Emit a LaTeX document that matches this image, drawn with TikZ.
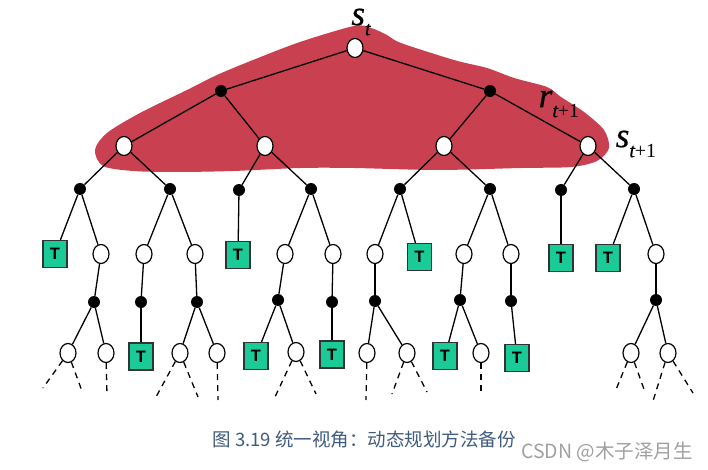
\documentclass[tikz,border=0pt]{standalone}
\usepackage{fontspec}
\setmainfont{Liberation Serif}
\newfontfamily\capfont{Noto Sans CJK SC}
\newfontfamily\termfont{Liberation Sans}
\newfontfamily\lblfont[FakeBold=0.6]{Liberation Serif Italic}
\usetikzlibrary{shapes.geometric}
\definecolor{blobred}{HTML}{C94050}
\definecolor{termgreen}{HTML}{1ACB97}
\definecolor{capblue}{HTML}{3F5B7E}
\definecolor{markgray}{HTML}{A0A0A0}
\newcommand{\lbl}[2]{\fontsize{35}{35}\lblfont #1\raisebox{-10pt}{\fontsize{20}{20}\selectfont #2}}
\begin{document}
\begin{tikzpicture}[
  statenode/.style={ellipse, draw, fill=white, line width=1.2pt, inner sep=0pt, minimum width=16pt, minimum height=19pt},
  actnode/.style={ellipse, fill=black, inner sep=0pt, minimum width=12pt, minimum height=12pt},
  termnode/.style={rectangle, draw=black!80, fill=termgreen, line width=1.2pt, inner sep=0pt, minimum width=24pt, minimum height=27pt, font=\termfont\bfseries\fontsize{16.5}{16.5}\selectfont},
  edge/.style={line width=1.3pt},
  stub/.style={line width=1.3pt, dash pattern=on 6pt off 5pt}
]
\useasboundingbox (0,0) rectangle (708pt,-470pt);
\fill[blobred] plot[smooth cycle, tension=0.5] coordinates {
  (354pt,-26pt) (300pt,-42pt) (253pt,-60pt) (217pt,-75pt) (187pt,-90pt) (140pt,-113pt) (107pt,-133pt)
  (95pt,-150pt) (103pt,-166pt) (133pt,-171pt) (177pt,-172pt) (233pt,-171pt) (300pt,-168pt) (354pt,-168pt)
  (437pt,-170pt) (521pt,-168pt) (571pt,-167pt) (597pt,-161pt) (609pt,-148pt) (604pt,-130pt) (584pt,-112pt)
  (561pt,-97pt) (547pt,-87pt) (514pt,-78pt) (487pt,-68pt) (454pt,-60pt) (401pt,-43pt) (387pt,-35pt) (371pt,-28pt)};

\node[statenode] (st) at (355pt,-48pt) {};
\node[actnode, below of=st, node distance=43pt, xshift=-134pt] (a1) {};
\node[actnode, below of=st, node distance=43pt, xshift=135pt] (a2) {};

\node[statenode, below of=a1, node distance=55pt, xshift=-97pt] (s1) {};
\node[statenode, below of=a1, node distance=55pt, xshift=44pt] (s2) {};
\node[statenode, below of=a2, node distance=55pt, xshift=-46pt] (s3) {};
\node[statenode, below of=a2, node distance=55pt, xshift=98pt] (s4) {};

\node[actnode, below of=s1, node distance=43pt, xshift=-44pt] (b1) {};
\node[actnode, below of=s1, node distance=43pt, xshift=46pt] (b2) {};
\node[actnode, below of=s2, node distance=44pt, xshift=-26pt] (b3) {};
\node[actnode, below of=s2, node distance=43pt, xshift=46pt] (b4) {};
\node[actnode, below of=s3, node distance=43pt, xshift=-44pt] (b5) {};
\node[actnode, below of=s3, node distance=43pt, xshift=46pt] (b6) {};
\node[actnode, below of=s4, node distance=44pt, xshift=-27pt] (b7) {};
\node[actnode, below of=s4, node distance=43pt, xshift=46pt] (b8) {};

\node[termnode, below of=b1, node distance=65pt, xshift=-25pt] (t1) {T};
\node[statenode, below of=b1, node distance=65pt, xshift=21pt] (c1) {};
\node[statenode, below of=b2, node distance=65pt, xshift=-26pt] (c2) {};
\node[statenode, below of=b2, node distance=65pt, xshift=25pt] (c3) {};
\node[termnode, below of=b3, node distance=65pt, xshift=-1pt] (t2) {T};
\node[statenode, below of=b4, node distance=65pt, xshift=-26pt] (c4) {};
\node[statenode, below of=b4, node distance=65pt, xshift=22pt] (c5) {};
\node[statenode, below of=b5, node distance=65pt, xshift=-25pt] (c6) {};
\node[termnode, below of=b5, node distance=68pt, xshift=19.5pt] (t3) {T};
\node[statenode, below of=b6, node distance=65pt, xshift=-26pt] (c7) {};
\node[statenode, below of=b6, node distance=65pt, xshift=21pt] (c8) {};
\node[termnode, below of=b7, node distance=68pt] (t4) {T};
\node[termnode, below of=b8, node distance=69pt, xshift=-26pt] (t5) {T};
\node[statenode, below of=b8, node distance=65pt, xshift=22pt] (c9) {};

\node[actnode, below of=c1, node distance=48pt, xshift=-7pt] (d1) {};
\node[actnode, below of=c2, node distance=48pt, xshift=-3pt] (d2) {};
\node[actnode, below of=c3, node distance=48pt, xshift=2pt] (d3) {};
\node[actnode, below of=c4, node distance=46pt, xshift=-7pt] (d4) {};
\node[actnode, below of=c5, node distance=48pt, xshift=-1pt] (d5) {};
\node[actnode, below of=c6, node distance=47pt] (d6) {};
\node[actnode, below of=c7, node distance=46pt, xshift=-4pt] (d7) {};
\node[actnode, below of=c8, node distance=47pt] (d8) {};
\node[actnode, below of=c9, node distance=46pt] (d9) {};

\node[statenode, below of=d1, node distance=51pt, xshift=-26pt] (e1) {};
\node[statenode, below of=d1, node distance=51pt, xshift=12pt] (e2) {};
\node[termnode, below of=d2, node distance=54.5pt] (t6) {T};
\node[statenode, below of=d3, node distance=51pt, xshift=-17pt] (e3) {};
\node[statenode, below of=d3, node distance=51pt, xshift=20pt] (e4) {};
\node[termnode, below of=d4, node distance=56pt, xshift=-22pt] (t7) {T};
\node[statenode, below of=d4, node distance=52pt, xshift=18pt] (e5) {};
\node[termnode, below of=d5, node distance=52.5pt] (t8) {T};
\node[statenode, below of=d6, node distance=52pt, xshift=-8pt] (e6) {};
\node[statenode, below of=d6, node distance=52pt, xshift=32pt] (e7) {};
\node[termnode, below of=d7, node distance=56pt, xshift=-15pt] (t9) {T};
\node[statenode, below of=d7, node distance=53pt, xshift=21pt] (e8) {};
\node[termnode, below of=d8, node distance=57pt, xshift=6pt] (t10) {T};
\node[statenode, below of=d9, node distance=53pt, xshift=-25pt] (e9) {};
\node[statenode, below of=d9, node distance=53pt, xshift=12pt] (e10) {};

\coordinate[below of=e1, node distance=35pt, xshift=-25pt] (f1);
\coordinate[below of=e1, node distance=38pt, xshift=14pt] (f2);
\coordinate[below of=e2, node distance=42pt, xshift=1pt] (f3);
\coordinate[below of=e3, node distance=44pt, xshift=-24pt] (f4);
\coordinate[below of=e3, node distance=44pt, xshift=18pt] (f5);
\coordinate[below of=e4, node distance=47pt, xshift=1pt] (f6);
\coordinate[below of=e5, node distance=45pt, xshift=-21pt] (f7);
\coordinate[below of=e5, node distance=42pt, xshift=20pt] (f8);
\coordinate[below of=e6, node distance=47pt, xshift=-1pt] (f9);
\coordinate[below of=e7, node distance=41pt, xshift=-15pt] (f10);
\coordinate[below of=e7, node distance=39pt, xshift=20pt] (f11);
\coordinate[below of=e8, node distance=41pt] (f12);
\coordinate[below of=e9, node distance=39pt, xshift=-16pt] (f13);
\coordinate[below of=e9, node distance=39pt, xshift=14pt] (f14);
\coordinate[below of=e10, node distance=48pt, xshift=-15pt] (f15);
\coordinate[below of=e10, node distance=40pt, xshift=25pt] (f16);

\draw[edge] (st) -- (a1);
\draw[edge] (st) -- (a2);
\draw[edge] (a1) -- (s1);
\draw[edge] (a1) -- (s2);
\draw[edge] (a2) -- (s3);
\draw[edge] (a2) -- (s4);
\draw[edge] (s1) -- (b1);
\draw[edge] (s1) -- (b2);
\draw[edge] (s2) -- (b3);
\draw[edge] (s2) -- (b4);
\draw[edge] (s3) -- (b5);
\draw[edge] (s3) -- (b6);
\draw[edge] (s4) -- (b7);
\draw[edge] (s4) -- (b8);
\draw[edge] (b1) -- (t1);
\draw[edge] (b1) -- (c1);
\draw[edge] (b2) -- (c2);
\draw[edge] (b2) -- (c3);
\draw[edge] (b3) -- (t2);
\draw[edge] (b4) -- (c4);
\draw[edge] (b4) -- (c5);
\draw[edge] (b5) -- (c6);
\draw[edge] (b5) -- (t3);
\draw[edge] (b6) -- (c7);
\draw[edge] (b6) -- (c8);
\draw[edge] (b7) -- (t4);
\draw[edge] (b8) -- (t5);
\draw[edge] (b8) -- (c9);
\draw[edge] (c1) -- (d1);
\draw[edge] (c2) -- (d2);
\draw[edge] (c3) -- (d3);
\draw[edge] (c4) -- (d4);
\draw[edge] (c5) -- (d5);
\draw[edge] (c6) -- (d6);
\draw[edge] (c7) -- (d7);
\draw[edge] (c8) -- (d8);
\draw[edge] (c9) -- (d9);
\draw[edge] (d1) -- (e1);
\draw[edge] (d1) -- (e2);
\draw[edge] (d2) -- (t6);
\draw[edge] (d3) -- (e3);
\draw[edge] (d3) -- (e4);
\draw[edge] (d4) -- (t7);
\draw[edge] (d4) -- (e5);
\draw[edge] (d5) -- (t8);
\draw[edge] (d6) -- (e6);
\draw[edge] (d6) -- (e7);
\draw[edge] (d7) -- (t9);
\draw[edge] (d7) -- (e8);
\draw[edge] (d8) -- (t10);
\draw[edge] (d9) -- (e9);
\draw[edge] (d9) -- (e10);

\draw[stub] (e1) -- (f1);
\draw[stub] (e1) -- (f2);
\draw[stub] (e2) -- (f3);
\draw[stub] (e3) -- (f4);
\draw[stub] (e3) -- (f5);
\draw[stub] (e4) -- (f6);
\draw[stub] (e5) -- (f7);
\draw[stub] (e5) -- (f8);
\draw[stub] (e6) -- (f9);
\draw[stub] (e7) -- (f10);
\draw[stub] (e7) -- (f11);
\draw[stub] (e8) -- (f12);
\draw[stub] (e9) -- (f13);
\draw[stub] (e9) -- (f14);
\draw[stub] (e10) -- (f15);
\draw[stub] (e10) -- (f16);

\node[above of=st, node distance=26pt, xshift=6pt, inner sep=0pt] (lst) {\lbl{s}{t}};
\node[above of=s4, node distance=42pt, xshift=-29pt, inner sep=0pt] (lrt) {\lbl{r}{t{\rmfamily +1}}};
\node[right of=s4, node distance=48pt, yshift=2pt, inner sep=0pt] (lsn) {\lbl{s}{t{\rmfamily +1}}};

\node[below of=st, node distance=391pt, xshift=9pt, text=capblue, font=\capfont\fontsize{18.5}{20}\selectfont] (cap) {图 3.19 统一视角：动态规划方法备份};
\node[below of=st, node distance=403.5pt, xshift=252pt, text=markgray, font=\capfont\fontsize{19.5}{20}\selectfont] (mark) {CSDN @木子泽月生};
\end{tikzpicture}
\end{document}
